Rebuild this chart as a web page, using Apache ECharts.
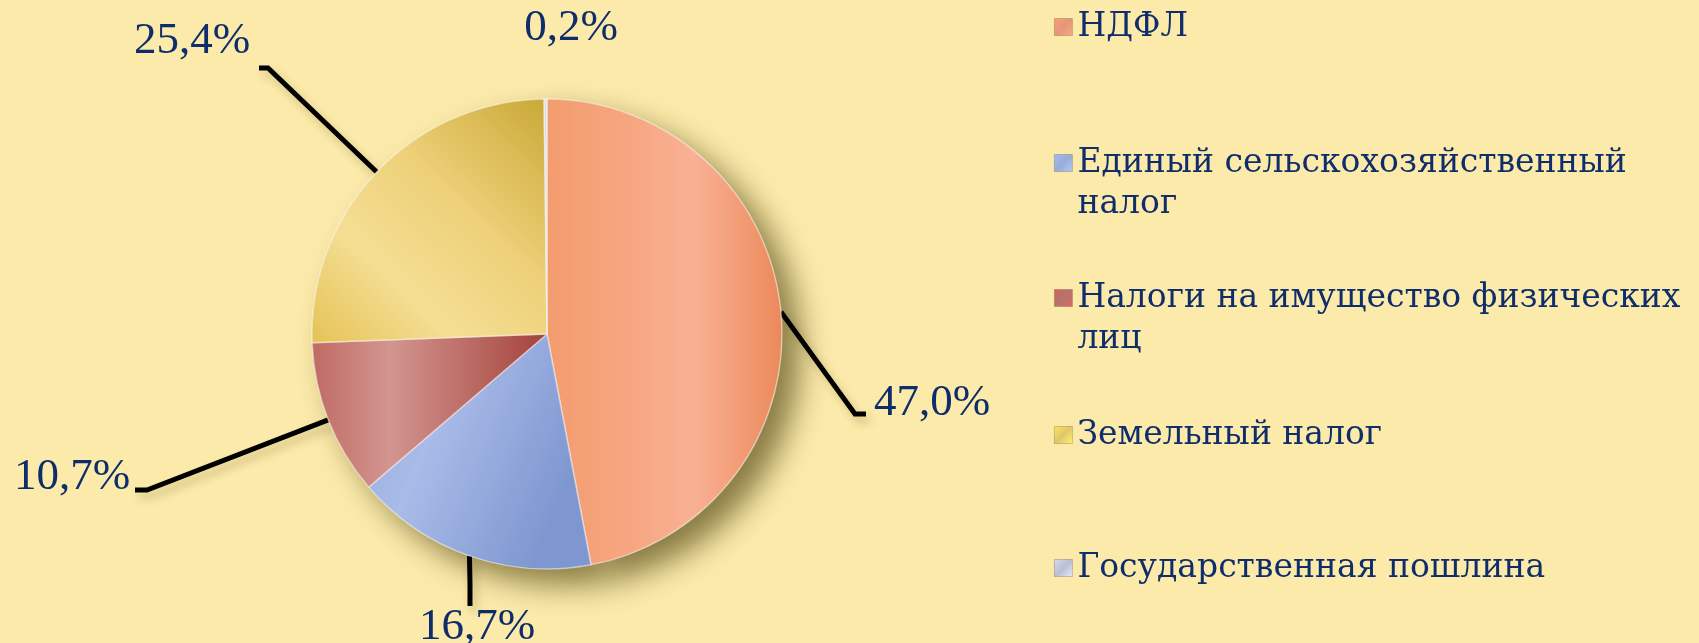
<!DOCTYPE html>
<html>
<head>
<meta charset="utf-8">
<style>
html,body{margin:0;padding:0;background:#FBEAA9;}
#chart{width:1699px;height:643px;}
</style>
<script src="https://cdn.jsdelivr.net/npm/echarts@6/dist/echarts.min.js"></script>
</head>
<body>
<div id="chart"></div>
<script>
// ---- data ----
const categories = ['НДФЛ', 'Единый сельскохозяйственный\nналог', 'Налоги на имущество физических\nлиц', 'Земельный налог', 'Государственная пошлина'];
const shares = [47.0, 16.7, 10.7, 25.4, 0.2];
const labelTexts = ['47,0%', '16,7%', '10,7%', '25,4%', '0,2%'];

// ---- styling ----
const TEXT = '#0F2D6B';
const G = echarts.graphic;
const fills = [
  new G.LinearGradient(0, 0, 1, 0, [{offset:0,color:'#F39C6E'},{offset:0.35,color:'#F6A680'},{offset:0.62,color:'#F9B194'},{offset:1,color:'#EB895A'}]),
  new G.LinearGradient(0, 0, 1, 0.4, [{offset:0,color:'#93A9DD'},{offset:0.4,color:'#A9BBE8'},{offset:1,color:'#7F97D0'}]),
  new G.LinearGradient(0, 0, 1, 0, [{offset:0,color:'#C06A64'},{offset:0.33,color:'#D3958F'},{offset:1,color:'#A4423B'}]),
  new G.LinearGradient(1, 0, 0, 1, [{offset:0,color:'#C9A836'},{offset:0.4,color:'#EDD078'},{offset:0.7,color:'#F5DE94'},{offset:1,color:'#E4C254'}]),
  '#DCDFEC'
];
const legendColors = ['#DD7E5C', '#8098CE', '#A64F4A', '#D8B84C', '#A9AFC4'];

// label layout (pixel positions of label text and leader line bends)
const labelLayoutSpec = [
  {x: 932, y: 403, bend: [[855, 414], [866, 414]]},
  {x: 477, y: 627, bend: [[470, 585], [470, 606]]},
  {x: 72,  y: 477, bend: [[147, 490], [135, 490]]},
  {x: 192, y: 41,  bend: [[268, 68], [259, 68]]},
  {x: 571, y: 28,  bend: null}
];
// legend first-line centres
const legendRows = [27, 163, 298, 435, 568];
const LH = 41;

const pieData = categories.map((c, i) => ({
  name: c,
  value: shares[i],
  itemStyle: {color: fills[i]},
  label: {formatter: labelTexts[i]},
  labelLine: {show: labelLayoutSpec[i].bend !== null}
}));
const shadowData = categories.map((c, i) => ({name: c, value: shares[i]}));

const legends = categories.map((c, i) => {
  const twoLine = c.indexOf('\n') >= 0;
  return {
    orient: 'vertical',
    left: 1054,
    top: legendRows[i] - LH / 2 - (twoLine ? LH : 0),
    padding: 0,
    itemWidth: 18,
    itemHeight: 17,
    icon: 'rect',
    selectedMode: false,
    // a blank first line keeps the marker level with the first text line
    formatter: twoLine ? (n => '\n' + n) : (n => n),
    data: [{
      name: c,
      itemStyle: {
        color: new G.LinearGradient(0, 0, 1, 1, [{offset:0,color:echarts.color.lift(legendColors[i], -0.25)},{offset:0.5,color:echarts.color.lift(legendColors[i], 0.2)},{offset:1,color:echarts.color.lift(legendColors[i], -0.35)}]),
        borderColor: 'rgba(90,70,40,0.35)', borderWidth: 0.8
      }
    }],
    textStyle: {
      fontFamily: 'DejaVu Serif',
      fontSize: 33,
      color: TEXT,
      lineHeight: LH
    }
  };
});

const chart = echarts.init(document.getElementById('chart'), null, {renderer: 'canvas'});
chart.setOption({
  backgroundColor: '#FBEAA9',
  animation: false,
  legend: legends,
  series: [
    {
      type: 'pie',
      name: 'shadow',
      silent: true,
      z: 1,
      center: [547, 334],
      radius: 235,
      startAngle: 90,
      label: {show: false},
      labelLine: {show: false},
      itemStyle: {color: '#D9C98A', shadowBlur: 30, shadowOffsetX: 18, shadowOffsetY: 16, shadowColor: 'rgba(60,50,0,0.6)'},
      data: shadowData
    },
    {
      type: 'pie',
      name: 'main',
      z: 3,
      center: [547, 334],
      radius: 235,
      startAngle: 90,
      avoidLabelOverlap: false,
      itemStyle: {borderColor: 'rgba(255,255,255,0.45)', borderWidth: 1.5},
      label: {
        show: true,
        position: 'outside',
        fontFamily: 'Liberation Serif',
        fontSize: 45,
        color: TEXT
      },
      labelLine: {
        show: true,
        length: 20,
        length2: 10,
        lineStyle: {color: '#000', width: 5, shadowBlur: 8, shadowOffsetX: 4, shadowOffsetY: 6, shadowColor: 'rgba(80,60,0,0.25)'}
      },
      emphasis: {disabled: true},
      labelLayout: function (params) {
        const spec = labelLayoutSpec[params.dataIndex];
        const out = {x: spec.x, y: spec.y, align: 'center', verticalAlign: 'middle'};
        if (spec.bend && params.labelLinePoints) {
          out.labelLinePoints = [params.labelLinePoints[0], spec.bend[0], spec.bend[1]];
        }
        return out;
      },
      data: pieData
    }
  ]
});
</script>
</body>
</html>
